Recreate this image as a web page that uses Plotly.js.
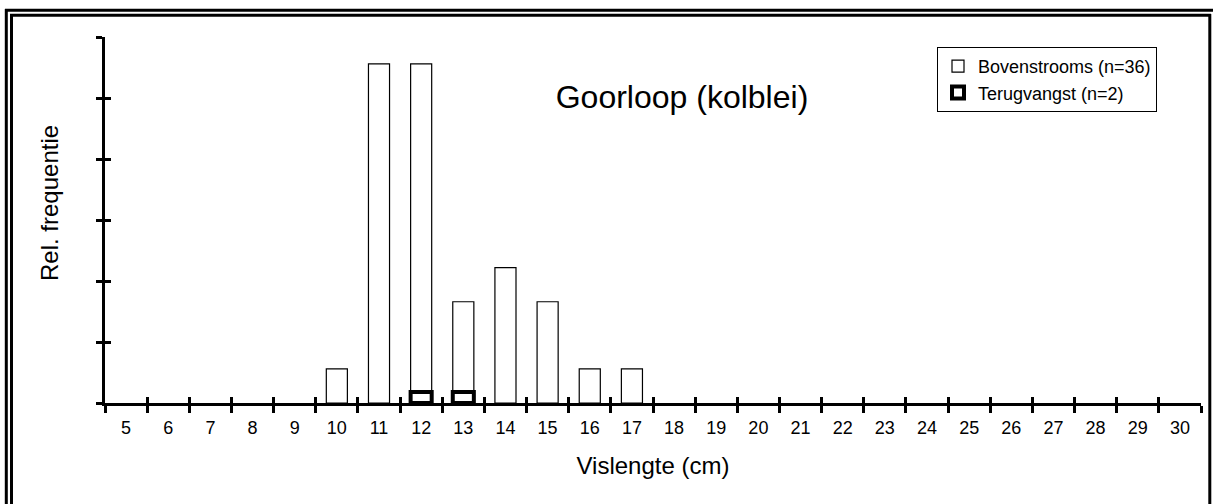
<!DOCTYPE html>
<html>
<head>
<meta charset="utf-8">
<script src="https://cdn.plot.ly/plotly-3.0.1.min.js"></script>
<style>
  html, body { margin: 0; padding: 0; background: #ffffff; }
  #chart { width: 1213px; height: 504px; }
</style>
</head>
<body>
<div id="chart"></div>
<script>
// Length classes (cm)
const lengthClasses = ['5','6','7','8','9','10','11','12','13','14','15','16','17','18',
                       '19','20','21','22','23','24','25','26','27','28','29','30'];
// Relative frequency per length class, upstream catch (n=36); empty classes left blank
const bovenstrooms = [null,null,null,null,null,0.028,0.278,0.278,0.083,0.111,0.083,0.028,0.028,null,
                      null,null,null,null,null,null,null,null,null,null,null,null];
// Relative frequency per length class, recaptures (n=2)
const terugvangst  = [null,null,null,null,null,null,null,0.009,0.009,null,null,null,null,null,
                      null,null,null,null,null,null,null,null,null,null,null,null];
const yTicks = [0, 0.05, 0.1, 0.15, 0.2, 0.25, 0.3];

const W = 1213, H = 504;
const M = {l: 105, r: 12, t: 37, b: 101};
const PW = W - M.l - M.r, PH = H - M.t - M.b;
// pixel -> paper helpers for the frame and label placement
const px = X => (X - M.l) / PW;
const py = Y => (H - M.b - Y) / PH;

const font = 'Arial, "Liberation Sans", sans-serif';

const traces = [
  {
    type: 'bar', name: 'Bovenstrooms (n=36)',
    x: lengthClasses, y: bovenstrooms, width: 0.5,
    marker: {color: '#ffffff', line: {color: '#000000', width: 1.2}},
    hoverinfo: 'x+y', legendgroup: 'a'
  },
  {
    type: 'bar', name: 'Terugvangst (n=2)',
    x: lengthClasses, y: terugvangst, width: 0.5,
    marker: {color: '#ffffff', line: {color: '#000000', width: 4}},
    hoverinfo: 'x+y', legendgroup: 'b'
  },
  {
    // carrier for the inward half of the crossing tick marks
    type: 'scatter', mode: 'none', x: lengthClasses, y: lengthClasses.map(() => 0),
    xaxis: 'x2', yaxis: 'y2', showlegend: false, hoverinfo: 'skip'
  }
];

const frameLine = (x0, y0, x1, y1) => ({
  type: 'line', xref: 'paper', yref: 'paper',
  x0: px(x0), y0: py(y0), x1: px(x1), y1: py(y1),
  line: {color: '#000000', width: 3}
});

const layout = {
  width: W, height: H,
  margin: M,
  paper_bgcolor: '#ffffff', plot_bgcolor: '#ffffff',
  font: {family: font, color: '#000000'},
  barmode: 'overlay',
  showlegend: true,
  title: {
    text: 'Goorloop (kolblei)',
    font: {family: font, size: 32, color: '#000000'},
    xref: 'paper', x: px(682), xanchor: 'center',
    yref: 'container', y: 1 - 97 / H, yanchor: 'middle'
  },
  xaxis: {
    type: 'category', categoryorder: 'array', categoryarray: lengthClasses,
    range: [-0.5, lengthClasses.length - 0.5],
    tickson: 'boundaries', ticks: 'outside', ticklen: 7, tickwidth: 3, tickcolor: '#000000',
    ticklabelstandoff: 6,
    showline: true, linewidth: 3, linecolor: '#000000',
    showgrid: false, zeroline: false, fixedrange: true,
    tickfont: {family: font, size: 18, color: '#000000'},
    title: {text: 'Vislengte (cm)', font: {family: font, size: 24, color: '#000000'}, standoff: 21}
  },
  yaxis: {
    range: [0, 0.3], tickmode: 'array', tickvals: yTicks,
    ticks: 'outside', ticklen: 6, tickwidth: 3, tickcolor: '#000000',
    showticklabels: false,
    showline: true, linewidth: 3, linecolor: '#000000',
    showgrid: false, zeroline: false, fixedrange: true
  },
  xaxis2: {
    type: 'category', categoryorder: 'array', categoryarray: lengthClasses,
    overlaying: 'x', range: [-0.5, lengthClasses.length - 0.5],
    tickson: 'boundaries', ticks: 'inside', ticklen: 6, tickwidth: 3, tickcolor: '#000000',
    showticklabels: false, showline: false, showgrid: false, zeroline: false, fixedrange: true
  },
  yaxis2: {
    overlaying: 'y', range: [0, 0.3], tickmode: 'array', tickvals: yTicks,
    ticks: 'inside', ticklen: 6, tickwidth: 3, tickcolor: '#000000',
    showticklabels: false, showline: false, showgrid: false, zeroline: false, fixedrange: true
  },
  annotations: [
    {
      // y-axis caption, sitting a little above the middle of the axis
      text: 'Rel. frequentie', textangle: -90, showarrow: false,
      xref: 'paper', yref: 'paper', x: px(50), y: py(203),
      xanchor: 'center', yanchor: 'middle',
      font: {family: font, size: 24, color: '#000000'}
    }
  ],
  legend: {
    x: px(937), xanchor: 'left', y: py(47), yanchor: 'top',
    bgcolor: '#ffffff', bordercolor: '#000000', borderwidth: 1,
    font: {family: font, size: 18, color: '#000000'},
    traceorder: 'normal', tracegroupgap: 0, itemwidth: 30
  },
  shapes: [
    frameLine(5, 10.3, 1213, 10.3),
    frameLine(6.3, 9, 6.3, 504),
    frameLine(10, 15.3, 1211, 15.3),
    frameLine(11.5, 14, 11.5, 504),
    frameLine(1209.8, 14, 1209.8, 504)
  ]
};

Plotly.newPlot('chart', traces, layout, {displayModeBar: false, staticPlot: true});
</script>
</body>
</html>
